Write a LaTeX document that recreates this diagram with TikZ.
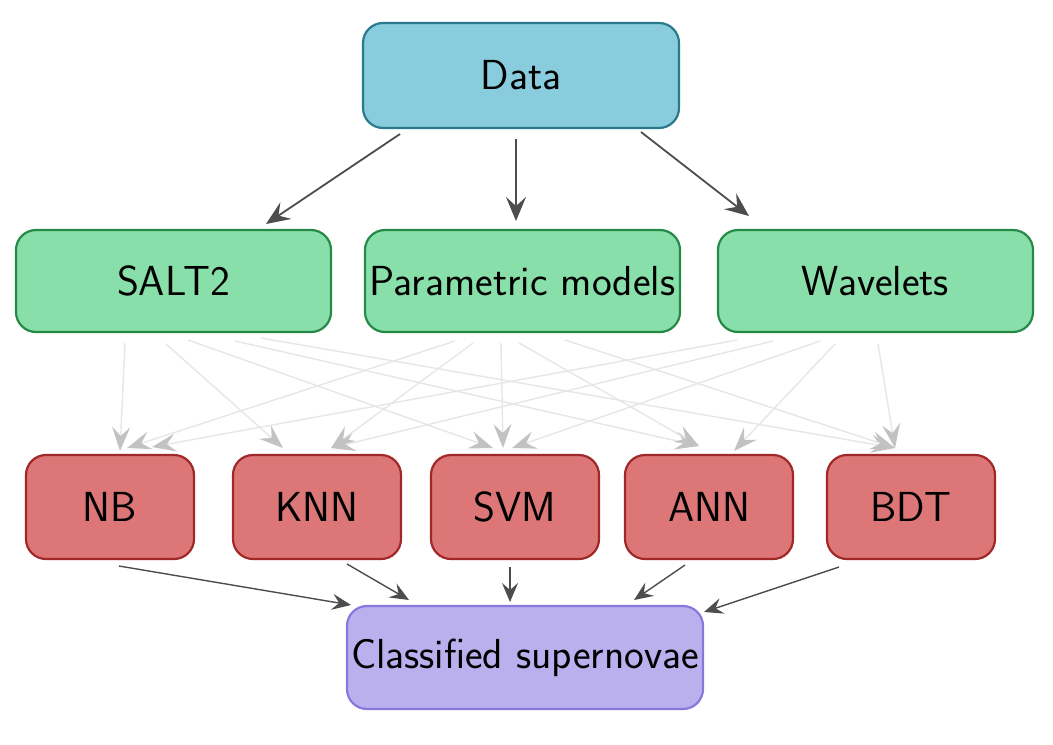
\documentclass[tikz,border=0pt]{standalone}
\usetikzlibrary{arrows.meta}
\definecolor{datafill}{HTML}{88CCDD}
\definecolor{datadraw}{HTML}{2B7A8C}
\definecolor{featfill}{HTML}{88DFAA}
\definecolor{featdraw}{HTML}{268A47}
\definecolor{clsfill}{HTML}{DD7777}
\definecolor{clsdraw}{HTML}{A02828}
\definecolor{outfill}{HTML}{BBB0EE}
\definecolor{outdraw}{HTML}{8877DD}
\definecolor{darkarrow}{HTML}{4D4D4D}
\definecolor{lightline}{HTML}{E6E6E6}
\definecolor{lighthead}{HTML}{C2C2C2}
\begin{document}
\begin{tikzpicture}[x=0.5pt,y=-0.5pt,
  box/.style={rounded corners=10pt, line width=1.1pt, inner sep=1pt, align=center,
    font=\sffamily\fontsize{21}{25}\selectfont},
  databox/.style={box, fill=datafill, draw=datadraw, minimum width=158pt, minimum height=52.5pt},
  featbox/.style={box, fill=featfill, draw=featdraw, minimum width=157.5pt, minimum height=51pt},
  clsbox/.style={box, fill=clsfill, draw=clsdraw, minimum width=84pt, minimum height=52pt},
  outbox/.style={box, fill=outfill, draw=outdraw, minimum width=178pt, minimum height=51.5pt},
  darrow/.style={draw=darkarrow, line width=0.9pt, -{Stealth[length=12pt,width=10pt,inset=4.5pt]}},
  larrow/.style={draw=lightline, line width=0.7pt, -{Stealth[length=12pt,width=9pt,inset=4.5pt,color=lighthead,fill=lighthead]}},
  barrow/.style={draw=darkarrow, line width=0.7pt, -{Stealth[length=9.5pt,width=8pt,inset=3.5pt]}},
]
\useasboundingbox (0,0) rectangle (1053,744);

\node[databox] (data) at (521,75.5) {Data};
\node[featbox] (salt) at (173.5,281) {SALT2};
\node[featbox] (param) at (522.5,281) {Parametric models};
\node[featbox] (wav) at (875.5,281) {Wavelets};
\node[clsbox] (nb) at (110,507) {NB};
\node[clsbox] (knn) at (317,507) {KNN};
\node[clsbox] (svm) at (515,507) {SVM};
\node[clsbox] (ann) at (709,507) {ANN};
\node[clsbox] (bdt) at (911,507) {BDT};
\node[outbox] (out) at (525,657.5) {Classified supernovae};

% data -> features
\draw[darrow] ([shift={(-121,58.5)}]data.center) -- ([shift={(92.5,-57)}]salt.center);
\draw[darrow] ([shift={(-5,63.5)}]data.center) -- ([shift={(-6.5,-60)}]param.center);
\draw[darrow] ([shift={(120,56.5)}]data.center) -- ([shift={(-126.5,-65)}]wav.center);

% features -> classifiers
\draw[larrow] ([shift={(-48.5,62)}]salt.center) -- ([shift={(10,-56)}]nb.center);
\draw[larrow] ([shift={(-7.5,63)}]salt.center) -- ([shift={(-34,-59)}]knn.center);
\draw[larrow] ([shift={(14.5,59)}]salt.center) -- ([shift={(-22,-59)}]svm.center);
\draw[larrow] ([shift={(61.5,60)}]salt.center) -- ([shift={(-10,-61)}]ann.center);
\draw[larrow] ([shift={(87.5,57)}]salt.center) -- ([shift={(-16,-59)}]bdt.center);

\draw[larrow] ([shift={(-67.5,60)}]param.center) -- ([shift={(17,-59)}]nb.center);
\draw[larrow] ([shift={(-49.5,62)}]param.center) -- ([shift={(14,-59)}]knn.center);
\draw[larrow] ([shift={(-21.5,62)}]param.center) -- ([shift={(-12,-59)}]svm.center);
\draw[larrow] ([shift={(-3.5,62)}]param.center) -- ([shift={(-10,-61)}]ann.center);
\draw[larrow] ([shift={(42.5,59)}]param.center) -- ([shift={(-16,-59)}]bdt.center);

\draw[larrow] ([shift={(-138.5,59)}]wav.center) -- ([shift={(42,-60)}]nb.center);
\draw[larrow] ([shift={(-102.5,60)}]wav.center) -- ([shift={(14,-59)}]knn.center);
\draw[larrow] ([shift={(-55.5,60)}]wav.center) -- ([shift={(-3,-59)}]svm.center);
\draw[larrow] ([shift={(-40.5,63)}]wav.center) -- ([shift={(25,-56)}]ann.center);
\draw[larrow] ([shift={(2.5,63)}]wav.center) -- ([shift={(-16,-59)}]bdt.center);

% classifiers -> output
\draw[barrow] ([shift={(9,59)}]nb.center) -- ([shift={(-174,-52.5)}]out.center);
\draw[barrow] ([shift={(30,57)}]knn.center) -- ([shift={(-116,-57.5)}]out.center);
\draw[barrow] ([shift={(-5,60)}]svm.center) -- ([shift={(-15,-55.5)}]out.center);
\draw[barrow] ([shift={(-24,58)}]ann.center) -- ([shift={(109,-57.5)}]out.center);
\draw[barrow] ([shift={(-72,60)}]bdt.center) -- ([shift={(179,-45.5)}]out.center);
\end{tikzpicture}
\end{document}
